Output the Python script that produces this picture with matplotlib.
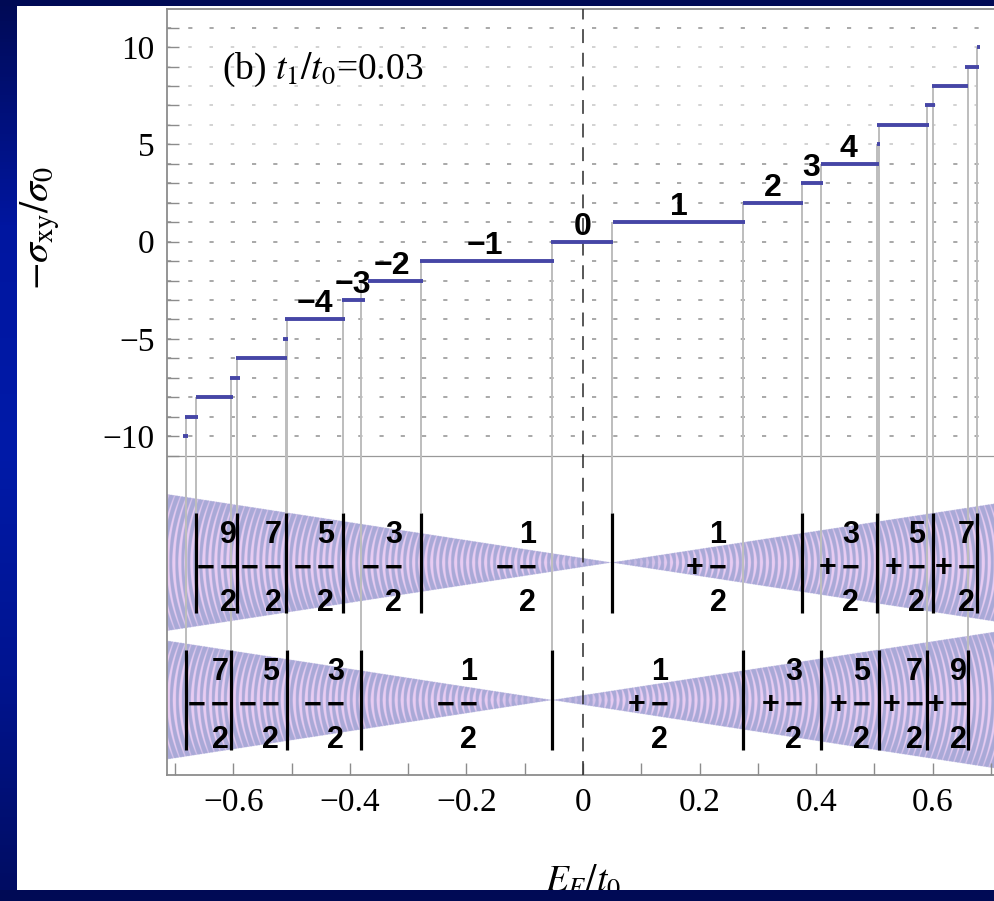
import numpy as np
import matplotlib
matplotlib.use("Agg")
import matplotlib.pyplot as plt
from matplotlib.patches import Rectangle
from matplotlib.colors import LinearSegmentedColormap

plt.rcParams['font.family'] = ['Liberation Serif', 'DejaVu Serif']
plt.rcParams['mathtext.fontset'] = 'stix'
plt.rcParams['lines.scale_dashes'] = False

# ---- data ----
# Hall plateaus: value, start and end of each plateau in E_F/t0
plateau_vals = list(range(-10, 11))
plateau_lo = [-0.686, -0.683, -0.664, -0.605, -0.595, -0.514, -0.511, -0.414, -0.368, -0.280,
              -0.055, 0.051, 0.274, 0.374, 0.408, 0.504, 0.505, 0.587, 0.599, 0.656, 0.676]
plateau_hi = [-0.677, -0.660, -0.600, -0.589, -0.508, -0.506, -0.408, -0.374, -0.275, -0.050,
              0.051, 0.278, 0.378, 0.411, 0.508, 0.509, 0.593, 0.604, 0.661, 0.680, 0.681]

# numbers written above some plateaus
step_label_vals = [-4, -3, -2, -1, 0, 1, 2, 3, 4]
step_label_x = [-0.460, -0.394, -0.328, -0.168, 0.0, 0.165, 0.325, 0.391, 0.456]

# Landau levels of the two cones (black bars) and the plateau each one lifts to
upper_ll_x = [-0.663, -0.593, -0.510, -0.412, -0.278, 0.049, 0.375, 0.504, 0.600, 0.676]
upper_ll_top = [-8, -6, -5, -3, -1, 1, 3, 5, 8, 10]
upper_num = [9, 7, 5, 3, 1, 1, 3, 5, 7]
upper_sign = ['\u2212'] * 5 + ['+'] * 4

lower_ll_x = [-0.681, -0.604, -0.508, -0.380, -0.053, 0.275, 0.408, 0.508, 0.590, 0.660]
lower_ll_top = [-9, -7, -4, -2, 0, 2, 4, 6, 7, 9]
lower_num = [7, 5, 3, 1, 1, 3, 5, 7, 9]
lower_sign = ['\u2212'] * 4 + ['+'] * 5

# cone apexes (x, y in axis units) and opening slope
upper_apex = (0.049, -16.52)
lower_apex = (-0.053, -23.56)
cone_slope = 4.6

W, H = 994, 901
XMIN, XMAX = -0.7136, 0.7136
YMIN, YMAX = -27.42, 11.96
PX_X = 583.0     # pixels per x unit
PX_Y = 19.45     # pixels per y unit

fig = plt.figure(figsize=(W / 100, H / 100), dpi=100)

# dark blue slide background with a white page on it
bg = fig.add_axes([0, 0, 1, 1], zorder=-10)
bg_cmap = LinearSegmentedColormap.from_list(
    'bg', ['#000a55', '#0016a0', '#001aa8', '#001490', '#000c60'])
bg.imshow(np.linspace(0, 1, 256)[:, None], cmap=bg_cmap, aspect='auto',
          extent=(0, 1, 0, 1), origin='upper')
bg.add_patch(Rectangle((17 / W, 11 / H), 1 - 17 / W, 1 - 6 / H - 11 / H,
                       transform=bg.transAxes, color='white', lw=0))
bg.set_xlim(0, 1)
bg.set_ylim(0, 1)
bg.axis('off')

ax = fig.add_axes([167 / W, 1 - 775 / H, 832 / W, (775 - 9) / H])
ax.set_facecolor('none')
ax.set_xlim(XMIN, XMAX)
ax.set_ylim(YMIN, YMAX)

# horizontal grid of the Hall panel
for v in range(-10, 12):
    if 5 <= v <= 10:
        ax.axhline(v, color='#d2d2d2', lw=1.4, dashes=(2.5, 12.8), zorder=1)
    else:
        ax.axhline(v, color='#a8a8a8', lw=1.4, dashes=(3.0, 12.3), zorder=1)
ax.axhline(-11, color='#999999', lw=0.9, zorder=1)


def cone_texture(apex):
    x0, y0 = apex
    half_max = cone_slope * max(x0 - XMIN, XMAX - x0)
    ylo, yhi = y0 - half_max, y0 + half_max
    xs = np.linspace(XMIN, XMAX, 1700)
    ys = np.linspace(ylo, yhi, int((yhi - ylo) * PX_Y * 2.5))
    X, Y = np.meshgrid(xs, ys)
    dx = X - x0
    dy = Y - y0
    half = cone_slope * np.abs(dx) + 1e-9
    s = np.clip(np.abs(dy) / half, 0, 1)
    r = np.hypot(dx * PX_X, dy * PX_Y * 1.6)
    stripe = 0.5 + 0.5 * np.cos(2 * np.pi * r / 6.0)
    w = np.clip((stripe - (0.45 + 0.5 * s)) / 0.25 + 0.5, 0, 1)
    w *= np.clip(np.abs(dx) * PX_X / 60, 0.35, 1)
    lav = np.array([0.665, 0.665, 0.845])
    pink = np.array([0.91, 0.80, 0.95])
    rgba = np.zeros(X.shape + (4,))
    rgba[..., :3] = lav * (1 - w[..., None]) + pink * w[..., None]
    rgba[..., 3] = (np.abs(dy) <= half).astype(float)
    ax.imshow(rgba, extent=(XMIN, XMAX, ylo, yhi), origin='lower', aspect='auto',
              interpolation='antialiased', zorder=1.5)


cone_texture(upper_apex)
cone_texture(lower_apex)

BAR_HALF = 2.57
FS = 22
frac_font = dict(family=['Liberation Sans', 'DejaVu Sans'], weight='bold', fontsize=FS,
                 ha='center', va='baseline', zorder=5)
dx_grp = 11.5 / PX_X
digit_half = 0.358 * FS * 100 / 72 / PX_Y
sign_mid = 0.33 * FS * 100 / 72 / PX_Y


def cone_levels(apex, ll_x, ll_top, nums, signs):
    y0 = apex[1]
    ax.vlines(ll_x, [y0 + BAR_HALF] * len(ll_x), ll_top, color='#bdbdbd', lw=1.4, zorder=2)
    ax.vlines(ll_x, y0 - BAR_HALF, y0 + BAR_HALF, color='black', lw=2.3, zorder=4)
    ybar = y0 - 0.16
    for i, (n, sg) in enumerate(zip(nums, signs)):
        mid = 0.5 * (ll_x[i] + ll_x[i + 1])
        ax.text(mid - dx_grp, ybar - sign_mid, sg, **frac_font)
        ax.text(mid + dx_grp, ybar - sign_mid, '\u2212', **frac_font)
        ax.text(mid + dx_grp, ybar + 1.75 - digit_half, str(n), **frac_font)
        ax.text(mid + dx_grp, ybar - 1.75 - digit_half, '2', **frac_font)


cone_levels(upper_apex, upper_ll_x, upper_ll_top, upper_num, upper_sign)
cone_levels(lower_apex, lower_ll_x, lower_ll_top, lower_num, lower_sign)

# Hall plateaus
ax.hlines(plateau_vals, plateau_lo, plateau_hi, color='#4646a6', lw=2.8, zorder=6)
LFS = 23
lab_half = 0.358 * LFS * 100 / 72 / PX_Y
for v, x in zip(step_label_vals, step_label_x):
    ax.text(x, v + 0.95 - lab_half, str(v).replace('-', '\u2212'),
            family=['Liberation Sans', 'DejaVu Sans'], weight='bold', fontsize=LFS,
            ha='center', va='baseline', zorder=6)

# E_F = 0
ax.axvline(0, color='#2a2a2a', lw=1.1, dashes=(10, 7), zorder=5)

# axes styling
for side in ['left', 'bottom', 'top']:
    ax.spines[side].set_color('#8c8c8c')
    ax.spines[side].set_linewidth(1.3)
ax.spines['right'].set_visible(False)

yt = list(range(-11, 12))
ax.set_yticks(yt)
ax.set_yticklabels([str(v).replace('-', '\u2212') if v % 5 == 0 else '' for v in yt])
xt = [round(v, 1) for v in np.arange(-0.7, 0.71, 0.1)]
xlab = {-0.6: '\u22120.6', -0.4: '\u22120.4', -0.2: '\u22120.2', 0.0: '0',
        0.2: '0.2', 0.4: '0.4', 0.6: '0.6'}
ax.set_xticks(xt)
ax.set_xticklabels([xlab.get(v, '') for v in xt])
ax.tick_params(direction='in', length=8.6, width=1.0, color='#8c8c8c',
               labelsize=24, pad=9)
ax.tick_params(axis='x', top=False)
ax.tick_params(axis='y', right=False)

fig.text(40 / W, 1 - 228 / H, r'$-\sigma_{\mathrm{xy}}/\sigma_0$', rotation=90,
         fontsize=29, ha='center', va='center')
fig.text(222 / W, 1 - 70 / H, r'(b) $t_1/t_0$=0.03', fontsize=27, ha='left', va='center')
fig.text(583 / W, 1 - 891 / H, r'$E_F/t_0$', fontsize=27, ha='center', va='baseline')

# bottom and top bands of the slide drawn over everything
fig.patches.append(Rectangle((0, 0), 1, 11 / H, transform=fig.transFigure,
                             color='#000a55', lw=0, zorder=20))
fig.patches.append(Rectangle((0, 1 - 6 / H), 1, 6 / H, transform=fig.transFigure,
                             color='#000a55', lw=0, zorder=20))

fig.savefig('out.png', dpi=100)
